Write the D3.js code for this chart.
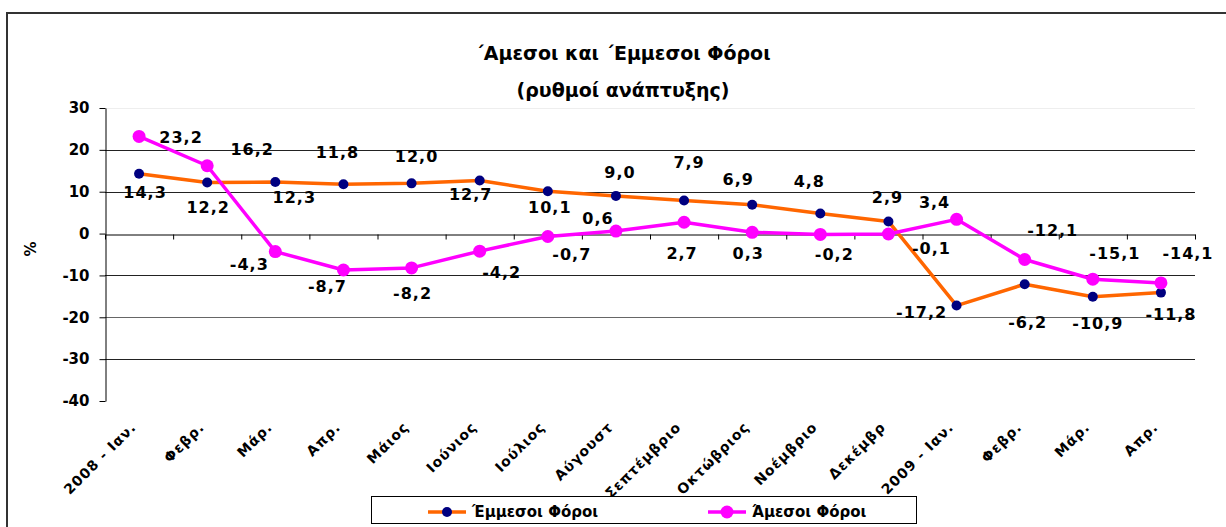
<!DOCTYPE html>
<html>
<head>
<meta charset="utf-8">
<script src="https://cdn.jsdelivr.net/npm/d3@7"></script>
<style>
  body { margin: 0; background: #fff; }
  svg { display: block; font-family: "DejaVu Sans", Verdana, sans-serif; }
</style>
</head>
<body>
<svg id="chart" width="1226" height="527"></svg>
<script>
// months on the x axis (long names are cut off in the original)
const months = ['2008 - Ιαν.', 'Φεβρ.', 'Μάρ.', 'Απρ.', 'Μάιος', 'Ιούνιος', 'Ιούλιος', 'Αύγουστ',
  'Σεπτέμβριο', 'Οκτώβριος', 'Νοέμβριο', 'Δεκέμβρ', '2009 - Ιαν.', 'Φεβρ.', 'Μάρ.', 'Απρ.'];

// growth rates, %
const indirectTaxes = [14.3, 12.2, 12.3, 11.8, 12.0, 12.7, 10.1, 9.0, 7.9, 6.9, 4.8, 2.9, -17.2, -12.1, -15.1, -14.1];
const directTaxes = [23.2, 16.2, -4.3, -8.7, -8.2, -4.2, -0.7, 0.6, 2.7, 0.3, -0.2, -0.1, 3.4, -6.2, -10.9, -11.8];

const yTicks = [-40, -30, -20, -10, 0, 10, 20, 30];

// where each value label sits relative to its point (px)
const indirectLabelOffsets = [[6,19],[1,25],[19,15],[-6,-32],[5,-27],[-9,14],[2,16],[4,-23],
  [5,-38],[-14,-25],[-11,-32],[-1,-24],[-35,7],[28,-54],[22,-43],[27,-39]];
const directLabelOffsets = [[42,1],[45,-16],[-26,13],[-16,17],[1,26],[22,21],[24,18],[-18,-13],
  [-2,31],[-4,21],[14,20],[43,15],[-22,-17],[3,63],[5,44],[10,32]];

const svg = d3.select('#chart');
const plotLeft = 105, plotRight = 1195, plotTop = 108, plotBottom = 401;

const x = d3.scaleBand().domain(d3.range(months.length)).range([plotLeft, plotRight]);
const xEdge = d3.scaleLinear().domain([0, months.length]).range([plotLeft, plotRight]);
const y = d3.scaleLinear().domain([-40, 30]).range([plotBottom, plotTop]);
const cx = i => x(i) + x.bandwidth() / 2;

// plain hyphen as minus, comma as decimal mark
const fmtValue = v => d3.format('.1f')(v).replace('.', ',').replace('\u2212', '-');
const fmtTick = v => String(v);

// outer frame
svg.append('rect')
  .attr('x', 7).attr('y', 13).attr('width', 1260).attr('height', 600)
  .attr('fill', 'none').attr('stroke', '#333').attr('stroke-width', 2);

// titles
svg.append('text').attr('x', 623).attr('y', 60).attr('text-anchor', 'middle')
  .attr('font-size', 19).attr('font-weight', 'bold')
  .text('΄Αμεσοι και ΄Εμμεσοι Φόροι');
svg.append('text').attr('x', 623).attr('y', 97).attr('text-anchor', 'middle')
  .attr('font-size', 19).attr('font-weight', 'bold')
  .text('(ρυθμοί ανάπτυξης)');

// gridlines
svg.append('g').selectAll('line')
  .data(yTicks.filter(d => d !== 0 && d !== -40))
  .join('line')
  .attr('x1', plotLeft).attr('x2', plotRight)
  .attr('y1', d => Math.round(y(d)) + 0.5).attr('y2', d => Math.round(y(d)) + 0.5)
  .attr('stroke', d => d === 30 ? '#eee' : (d === -20 ? '#666' : '#222'));

// y axis
const yAxis = svg.append('g')
  .attr('transform', `translate(${plotLeft + 0.5},0)`)
  .call(d3.axisLeft(y).tickValues(yTicks).tickFormat(fmtTick).tickSize(6).tickSizeOuter(0).tickPadding(10));
yAxis.selectAll('text').attr('font-size', 15).attr('font-weight', 'bold')
  .attr('fill', '#000').attr('font-family', '"DejaVu Sans", Verdana, sans-serif');
yAxis.selectAll('line, path').attr('stroke', '#000');

// x axis on the zero line, ticks at category edges
const xAxis = svg.append('g')
  .attr('transform', `translate(0,${Math.round(y(0)) + 0.5})`)
  .call(d3.axisBottom(xEdge).tickValues(d3.range(months.length + 1)).tickSize(5).tickSizeOuter(0).tickFormat(''));
xAxis.selectAll('line, path').attr('stroke', '#000');

svg.append('text')
  .attr('transform', 'translate(36,249) rotate(-90)')
  .attr('text-anchor', 'middle')
  .attr('font-size', 15).attr('font-weight', 'bold')
  .text('%');

// month labels at the bottom
svg.append('g').selectAll('text')
  .data(months)
  .join('text')
  .attr('transform', (d, i) => `translate(${cx(i) - 2},428) rotate(-45)`)
  .attr('text-anchor', 'end')
  .attr('font-size', 14).attr('font-weight', 'bold')
  .attr('letter-spacing', 1)
  .text(d => d);

const line = d3.line().x((d, i) => cx(i)).y(d => y(d));

const series = [
  { values: indirectTaxes, offsets: indirectLabelOffsets, color: '#FF6600', marker: '#000080', r: 5 },
  { values: directTaxes, offsets: directLabelOffsets, color: '#FF00FF', marker: '#FF00FF', r: 6.5 }
];

series.forEach(s => {
  svg.append('path')
    .datum(s.values)
    .attr('fill', 'none')
    .attr('stroke', s.color)
    .attr('stroke-width', 3.5)
    .attr('stroke-linejoin', 'round')
    .attr('d', line);

  svg.append('g').selectAll('circle')
    .data(s.values)
    .join('circle')
    .attr('cx', (d, i) => cx(i))
    .attr('cy', d => y(d))
    .attr('r', s.r)
    .attr('fill', s.marker);
});

series.forEach(s => {
  svg.append('g').selectAll('text')
    .data(s.values)
    .join('text')
    .attr('x', (d, i) => cx(i) + s.offsets[i][0])
    .attr('y', (d, i) => y(d) + s.offsets[i][1])
    .attr('text-anchor', 'middle')
    .attr('dominant-baseline', 'central')
    .attr('font-size', 16).attr('font-weight', 'bold')
    .attr('letter-spacing', 1)
    .text(fmtValue);
});

// legend
const legend = svg.append('g');
legend.append('rect')
  .attr('x', 371.5).attr('y', 496.5).attr('width', 545).attr('height', 27)
  .attr('fill', '#fff').attr('stroke', '#000');

const legendItems = [
  { name: 'Έμμεσοι Φόροι', x: 428, s: series[0] },
  { name: 'Άμεσοι Φόροι', x: 708, s: series[1] }
];
legendItems.forEach(item => {
  legend.append('line')
    .attr('x1', item.x).attr('x2', item.x + 38)
    .attr('y1', 512).attr('y2', 512)
    .attr('stroke', item.s.color).attr('stroke-width', 3.5);
  legend.append('circle')
    .attr('cx', item.x + 19).attr('cy', 512).attr('r', item.s.r)
    .attr('fill', item.s.marker);
  legend.append('text')
    .attr('x', item.x + 44).attr('y', 512)
    .attr('dominant-baseline', 'central')
    .attr('font-size', 15).attr('font-weight', 'bold')
    .text(item.name);
});
</script>
</body>
</html>
